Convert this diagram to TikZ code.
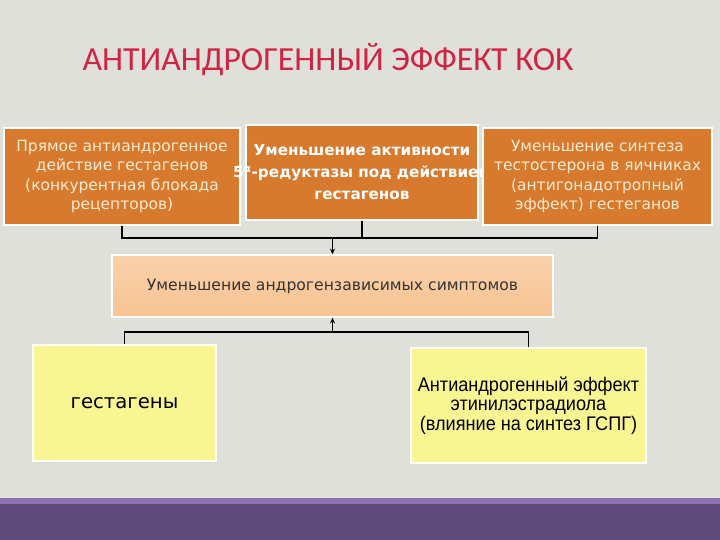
\documentclass[tikz,border=0pt]{standalone}
\usepackage{fontspec}
\setmainfont{DejaVu Sans}
\newfontfamily\titlefont{Carlito}
\newfontfamily\narrowfont{Liberation Sans}[FakeStretch=0.92]
\usetikzlibrary{positioning, shadows, arrows.meta}
\definecolor{fon}{HTML}{E0E0DB}
\definecolor{oranzh}{HTML}{D77A2E}
\definecolor{persik}{HTML}{F7C393}
\definecolor{persikL}{HTML}{FAD1AA}
\definecolor{zhelt}{HTML}{F8F592}
\definecolor{fiolet}{HTML}{5F4B7B}
\definecolor{fioletL}{HTML}{8A72AE}
\definecolor{zagol}{HTML}{D02443}
\definecolor{krem}{HTML}{FBEBD2}

\tikzset{
  orbox/.style={fill=oranzh, draw=white, line width=1.4pt, align=center,
    text=krem, font=\fontsize{11}{13.8}\selectfont,
    drop shadow={opacity=0.3, shadow xshift=1pt, shadow yshift=-1pt}},
  zhbox/.style={fill=zhelt, draw=white, line width=1.4pt, align=center,
    drop shadow={opacity=0.3, shadow xshift=1pt, shadow yshift=-1pt}},
  liniya/.style={line width=1pt, black},
  strelka/.style={liniya, -{Stealth[length=4pt, width=3.5pt]}}
}

\begin{document}
\begin{tikzpicture}
  \useasboundingbox (0,0) rectangle (18,13.5);
  % fon i polosa vnizu
  \fill[fon] (0,0) rectangle (18,13.5);
  \fill[fiolet] (0,0) rectangle (18,1.05);
  \fill[fioletL] (0,0.9) rectangle (18,1.05);
  % zagolovok
  \node (zag) at (8.2,12.0) {\titlefont\fontsize{24}{28}\selectfont\color{zagol}АНТИАНДРОГЕННЫЙ ЭФФЕКТ КОК};
  % verhnij ryad
  \node[orbox, minimum width=5.9cm, minimum height=2.425cm] (pryam) at (3.05,9.0875)
    {Прямое антиандрогенное\\действие гестагенов\\(конкурентная блокада\\рецепторов)};
  \node[orbox, minimum width=5.8cm, minimum height=2.375cm, text=white,
    font=\bfseries\fontsize{10.8}{15.6}\selectfont] (redukt) at (9.05,9.1875)
    {Уменьшение активности\\\makebox[0pt]{5\textsuperscript{α}-редуктазы под действием}\\гестагенов};
  \node[orbox, minimum width=5.725cm, minimum height=2.425cm] (sintez) at (14.9375,9.0875)
    {Уменьшение синтеза\\тестостерона в яичниках\\(антигонадотропный\\эффект) гестеганов};
  % srednij blok
  \node[draw=white, line width=1pt, top color=persikL, bottom color=persik,
    minimum width=11.025cm, minimum height=1.55cm, text=black!80,
    font=\fontsize{11.1}{13}\selectfont,
    drop shadow={opacity=0.3, shadow xshift=1pt, shadow yshift=-1pt}] (simpt) at (8.3125,6.35)
    {Уменьшение андрогензависимых симптомов};
  % nizhnij ryad
  \node[zhbox, minimum width=4.575cm, minimum height=2.9cm,
    font=\fontsize{14}{16}\selectfont] (gest) at (3.1125,3.425) {гестагены};
  \node[zhbox, minimum width=5.875cm, minimum height=2.875cm,
    font=\narrowfont\fontsize{14}{14}\selectfont] (etinil) at (13.2125,3.3625)
    {Антиандрогенный эффект\\этинилэстрадиола\\(влияние на синтез ГСПГ)};
  % shiny
  \coordinate (shina1) at (0,7.55);
  \coordinate (shina2) at (0,5.2);
  \draw[liniya] (pryam.south) |- (shina1 -| sintez.south) -- (sintez.south);
  \draw[liniya] (redukt.south) -- (shina1 -| redukt.south);
  \draw[strelka] (shina1 -| simpt.north) -- (simpt.north);
  \draw[liniya] (gest.north) |- (shina2 -| etinil.north) -- (etinil.north);
  \draw[strelka] (shina2 -| simpt.south) -- (simpt.south);
\end{tikzpicture}
\end{document}
